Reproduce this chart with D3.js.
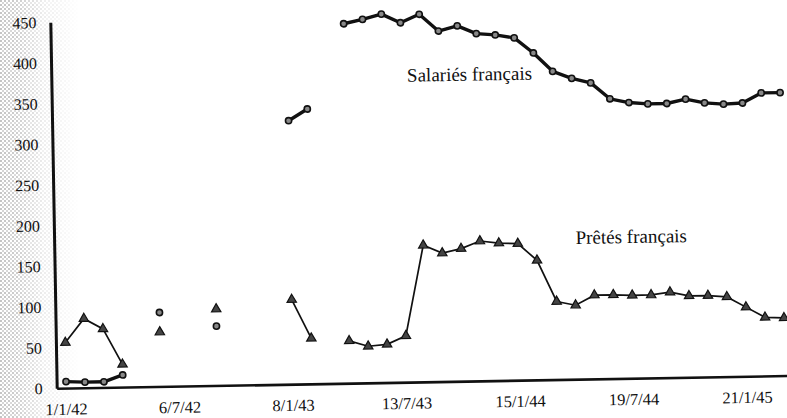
<!DOCTYPE html>
<html>
<head>
<meta charset="utf-8">
<script src="https://cdn.jsdelivr.net/npm/d3@7"></script>
<style>
  body { margin: 0; background: #fff; }
  svg { display: block; }
  svg text { font-family: "Liberation Serif", "Tinos", "DejaVu Serif", "Noto Serif", "Nimbus Roman", "FreeSerif", "Times New Roman", Times, serif; }
</style>
</head>
<body>
<script>
// categories: one reading every 31 days (Excel category axis)
var categories = ["1/1/42", "1/2/42", "4/3/42", "4/4/42", "5/5/42", "5/6/42", "6/7/42", "6/8/42",
    "6/9/42", "7/10/42", "7/11/42", "8/12/42", "8/1/43", "8/2/43", "11/3/43", "11/4/43", "12/5/43",
    "12/6/43", "13/7/43", "13/8/43", "13/9/43", "14/10/43", "14/11/43", "15/12/43", "15/1/44",
    "15/2/44", "17/3/44", "17/4/44", "18/5/44", "18/6/44", "19/7/44", "19/8/44", "19/9/44",
    "20/10/44", "20/11/44", "21/12/44", "21/1/45", "21/2/45", "24/3/45"];
var tickLabels = ["1/1/42", "6/7/42", "8/1/43", "13/7/43", "15/1/44", "19/7/44", "21/1/45"];
var yTicks = [0, 50, 100, 150, 200, 250, 300, 350, 400, 450];

var salaries = [8, 7, 7, 15, null, 91, null, null, 73, null, null, null, 324, 338, null,
    442, 447, 453, 442, 452, 431, 437, 427, 425, 421, 402, 379, 370, 364, 344, 339, 337, 337,
    342, 337, 335, 336, 348, 348];
var pretes = [56, 85, 72, 28, null, 67, null, null, 94, null, null, null, 104, 56, null,
    52, 45, 47, 57, 168, 158, 163, 172, 169, 168, 147, 96, 91, 103, 103, 102, 102, 105,
    100, 100, 98, 85, 72, 71];

var width = 787, height = 418;

var svg = d3.select("body").append("svg")
    .attr("width", width)
    .attr("height", height);

// scanned halftone on the left margin
var defs = svg.append("defs");
var pat = defs.append("pattern")
    .attr("id", "dots")
    .attr("width", 4).attr("height", 4)
    .attr("patternUnits", "userSpaceOnUse");
pat.append("circle").attr("cx", 1).attr("cy", 1).attr("r", 0.8).attr("fill", "#777");
pat.append("circle").attr("cx", 3).attr("cy", 3).attr("r", 0.7).attr("fill", "#888");
var grad = defs.append("linearGradient").attr("id", "fade")
    .attr("gradientUnits", "userSpaceOnUse")
    .attr("x1", 0).attr("x2", 80).attr("y1", 0).attr("y2", 0);
grad.append("stop").attr("offset", 0).attr("stop-color", "#fff").attr("stop-opacity", 1);
grad.append("stop").attr("offset", 0.25).attr("stop-color", "#fff").attr("stop-opacity", 0.8);
grad.append("stop").attr("offset", 0.55).attr("stop-color", "#fff").attr("stop-opacity", 0.3);
grad.append("stop").attr("offset", 1).attr("stop-color", "#fff").attr("stop-opacity", 0);
defs.append("mask").attr("id", "fadeMask")
    .append("rect").attr("width", 80).attr("height", height).attr("fill", "url(#fade)");
svg.append("rect")
    .attr("width", 80).attr("height", height)
    .attr("fill", "url(#dots)")
    .attr("mask", "url(#fadeMask)");

// the scanned page is slightly tilted
var g = svg.append("g").attr("transform", "translate(56.7,388.3) rotate(-1)");

var x = d3.scaleBand().domain(categories).range([0, 737.9]).padding(0);
var cx = c => x(c) + x.bandwidth() / 2;
var xi = d3.scaleLinear().domain([0, categories.length - 1]).range([cx(categories[0]), cx(categories[categories.length - 1])]);
var y = d3.scaleLinear().domain([0, 450]).range([0, -366]);

var yAxis = g.append("g")
    .call(d3.axisLeft(y).tickValues(yTicks).tickSize(0).tickSizeOuter(0).tickPadding(14));
yAxis.attr("font-family", null);
yAxis.select(".domain").attr("stroke", "#111").attr("stroke-width", 3);
yAxis.selectAll("text").attr("font-size", "16px").attr("fill", "#111");

var xAxis = g.append("g")
    .call(d3.axisBottom(x).tickValues(tickLabels).tickSize(0).tickSizeOuter(0).tickPadding(15));
xAxis.attr("font-family", null);
xAxis.select(".domain").attr("stroke", "#111").attr("stroke-width", 2.6);
xAxis.selectAll("text").attr("font-size", "16.5px").attr("fill", "#111");

var sal = categories.map((c, i) => ({c: c, v: salaries[i]}));
var pre = categories.map((c, i) => ({c: c, v: pretes[i]}));

var line = d3.line()
    .defined(d => d.v != null)
    .x(d => cx(d.c))
    .y(d => y(d.v));

g.append("path")
    .datum(pre)
    .attr("fill", "none")
    .attr("stroke", "#111")
    .attr("stroke-width", 1.7)
    .attr("d", line);

g.append("path")
    .datum(sal)
    .attr("fill", "none")
    .attr("stroke", "#111")
    .attr("stroke-width", 3.4)
    .attr("stroke-linejoin", "round")
    .attr("d", line);

g.selectAll(".sal")
    .data(sal.filter(d => d.v != null))
    .join("circle")
    .attr("class", "sal")
    .attr("cx", d => cx(d.c))
    .attr("cy", d => y(d.v))
    .attr("r", 3.1)
    .attr("fill", "#888")
    .attr("stroke", "#111")
    .attr("stroke-width", 1.6);

var tri = d3.symbol().type(d3.symbolTriangle).size(38);
g.selectAll(".pre")
    .data(pre.filter(d => d.v != null))
    .join("path")
    .attr("class", "pre")
    .attr("transform", d => `translate(${cx(d.c)},${y(d.v)})`)
    .attr("d", tri)
    .attr("fill", "#444")
    .attr("stroke", "#111")
    .attr("stroke-width", 1.2);

// series labels
g.append("text")
    .attr("x", xi(18.3))
    .attr("y", y(369.4))
    .attr("font-size", "19px")
    .attr("fill", "#111")
    .text("Salariés français");

g.append("text")
    .attr("x", xi(27.06))
    .attr("y", y(166.3))
    .attr("font-size", "19px")
    .attr("fill", "#111")
    .text("Prêtés français");
</script>
</body>
</html>
